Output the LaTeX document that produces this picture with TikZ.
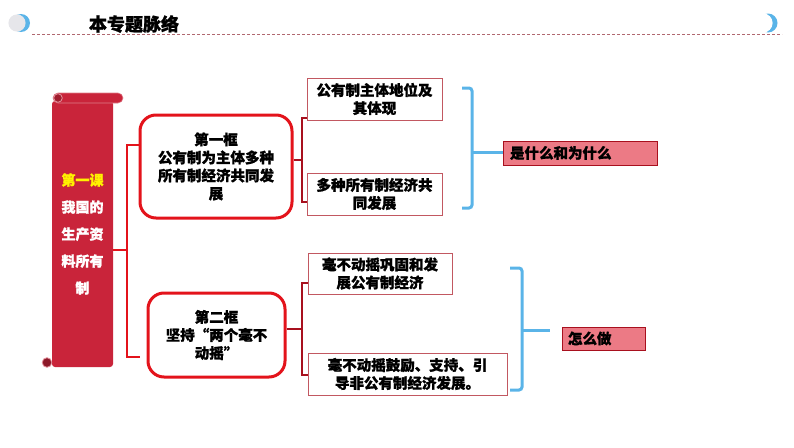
\documentclass[tikz,border=0pt]{standalone}
\usepackage{fontspec}
\setmainfont{Noto Sans CJK SC}[BoldFeatures={FakeBold=1.2}]
\usepackage{tikz}
\usetikzlibrary{positioning}
\definecolor{juanhong}{HTML}{C9243A}
\definecolor{kuanghong}{HTML}{E3131B}
\definecolor{anhong}{HTML}{A8101E}
\definecolor{tianlan}{HTML}{5AB4E8}
\definecolor{fenhong}{HTML}{EC7A85}
\definecolor{xuxian}{HTML}{B06870}
\definecolor{qianhui}{HTML}{E6E6EA}

\begin{document}
\begin{tikzpicture}[x=1pt,y=-1pt,
  kuang/.style={draw=kuanghong,line width=3pt,rounded corners=16pt,align=center,
    font=\fontsize{14.5}{18}\selectfont\bfseries},
  box/.style={draw=anhong!70,line width=0.8pt,align=center,inner sep=0pt,
    font=\fontsize{14.5}{18}\selectfont\bfseries},
  tag/.style={draw=anhong,fill=fenhong,line width=1pt,align=left,inner sep=0pt,
    font=\fontsize{14.5}{18}\selectfont\bfseries},
  hongxian/.style={draw=kuanghong,line width=2.5pt},
  anxian/.style={draw=anhong,line width=2.5pt},
  lanxian/.style={draw=tianlan,line width=3pt,rounded corners=3pt}]
    \useasboundingbox (0,0) rectangle (794,447);
    % header
    \fill[tianlan] (21,23) circle (9);
    \fill[qianhui] (17,23) circle (8.6);
    \fill[tianlan] (768,23) circle (9.5);
    \fill[white] (763,23) circle (9.6);
    \node (title) at (134,24) {\fontsize{18}{18}\selectfont\bfseries 本专题脉络};
    \coordinate (dash_start) at (32,34);
    \coordinate (dash_end) at (782,34);
    \draw[xuxian,line width=0.8pt,dash pattern=on 3pt off 2pt] (dash_start) -- (dash_end);
    % scroll
    \node (ke)
      [fill=juanhong,rounded corners=3pt,minimum width=61pt,minimum height=266pt,
        align=center,text=white,font=\fontsize{14}{27}\selectfont\bfseries]
      at (82.5,234) {\textcolor{yellow}{第一课}\\我国的\\生产资\\料所有\\制};
    \fill[juanhong,draw=juanhong!60!white,line width=0.6pt,rounded corners=5pt]
      (53,93) rectangle (123,103);
    \draw[juanhong!50!white,fill=juanhong!80!black,line width=0.8pt] (58,98) circle (4.3);
    \draw[juanhong!50!white,fill=juanhong!70!black,line width=0.8pt] (47,362.5) circle (4.8);
    % frames
    \node (kuang1) [kuang,minimum width=152pt,minimum height=103pt] at (216,166.5)
      {第一框\\公有制为主体多种\\所有制经济共同发\\展};
    \node (kuang2) [kuang,minimum width=137pt,minimum height=84pt] at (216.5,335)
      {第二框\\坚持“两个毫不\\动摇”};
    % points
    \node (gongyou) [box,minimum width=135pt,minimum height=42pt] at (374.5,99)
      {公有制主体地位及\\其体现};
    \node (duozhong) [box,minimum width=135pt,minimum height=42pt] at (374.5,194)
      {多种所有制经济共\\同发展};
    \node (gonggu) [box,minimum width=144pt,minimum height=41pt] at (380,273.5)
      {毫不动摇巩固和发\\展公有制经济};
    \node (guli) [box,minimum width=199pt,minimum height=42pt] at (407.5,374)
      {毫不动摇鼓励、支持、引\\导非公有制经济发展。};
    % tags
    \node (shi) [tag,minimum width=154pt,minimum height=24pt,text width=140pt] at (580,153)
      {是什么和为什么};
    \node (zen) [tag,minimum width=83pt,minimum height=23pt,text width=71pt] at (603.5,338.5)
      {怎么做};
    % left bracket
    \coordinate (zuo) at (127,250);
    \draw[hongxian] (ke.east |- zuo) -- (zuo);
    \draw[hongxian] (kuang1.west |- 0,145) -| (zuo) |- (140,357);
    % red brackets
    \coordinate (you1) at (302,160);
    \coordinate (you2) at (302,329);
    \draw[anxian] (kuang1.east |- you1) -- (you1);
    \draw[anxian] (gongyou.west |- 0,118) -| (you1) |- (duozhong.west |- 0,202);
    \draw[anxian] (kuang2.east |- you2) -- (you2);
    \draw[anxian] (gonggu.west |- 0,283) -| (you2) |- (guli.west |- 0,375);
    % blue brackets
    \coordinate (lan1) at (472,152);
    \coordinate (lan2) at (522,330);
    \draw[lanxian] (462,88) -| (lan1) |- (462,208);
    \draw[tianlan,line width=3pt] (lan1) -- (shi.west |- lan1);
    \draw[lanxian] (510,268) -| (lan2) |- (510,390);
    \draw[tianlan,line width=3pt] (lan2) -- ([xshift=-12pt]zen.west |- lan2);
  \end{tikzpicture}
\end{document}
